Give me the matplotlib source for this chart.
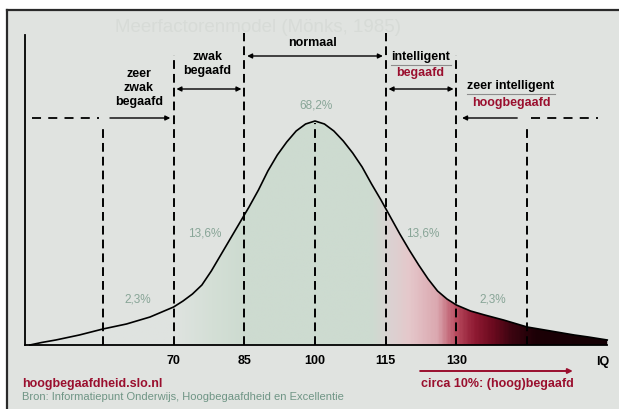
import matplotlib.pyplot as plt
import numpy as np
from matplotlib.colors import LinearSegmentedColormap

# IQ curve (height in px above the baseline)
curve_iq = [39.5, 42, 45, 50, 55, 60, 65, 70, 72, 74, 76, 78, 80, 82, 84, 86, 88, 90, 92, 94, 96, 98,
            100, 102, 104, 106, 108, 110, 112, 114, 116, 118, 120, 122, 124, 126, 128, 130, 133, 136,
            140, 145, 150, 155, 158, 162]
curve_h = [0, 2.5, 5, 10, 16, 21, 28, 38, 44, 51, 60, 74, 90, 106, 122, 138, 155, 174, 190, 203, 214, 221,
           224, 221, 214, 204, 192, 178, 161, 145, 128, 111, 95, 80, 66, 54, 46, 40, 34, 30,
           25, 18, 14, 10, 8, 5]

band_iq = [55, 70, 85, 100, 115, 130, 145]
band_top = [220, 290, 312, 222, 312, 290, 220]
tick_iq = [70, 85, 100, 115, 130]

pct_labels = ["2,3%", "13,6%", "68,2%", "13,6%", "2,3%"]
pct_iq = [62.4, 76.7, 100.3, 122.9, 137.8]
pct_h = [45, 111, 240, 112, 45]

# fill colours along the IQ axis
grad_iq = [38.5, 70, 78, 85, 112, 116, 120, 126, 130, 134, 138, 142, 147, 162]
grad_col = ['#e0e3e0', '#dfe3e0', '#d4dfd6', '#cddbd0', '#cddbd0', '#dbd2d2', '#e5c8cb', '#dba8b0',
            '#b84a5e', '#8f1a32', '#6a0a1e', '#3a0410', '#1c0006', '#140004']

BG = '#e0e3e0'
RED = '#9a0f2e'
GREY_GREEN = '#88a597'
SCALE = 15 / 70.7

plt.rcParams['font.family'] = ['Liberation Sans', 'DejaVu Sans']

fig = plt.figure(figsize=(6.19, 4.09), dpi=100)
fig.patch.set_facecolor('white')
ax = fig.add_axes([7 / 619, 0, 612 / 619, 399 / 409])
ax.set_facecolor(BG)
ax.set_xlim(100 - 308 * SCALE, 100 + 304 * SCALE)
ax.set_ylim(-64, 335)
ax.set_xticks([])
ax.set_yticks([])
for s in ['right', 'bottom']:
    ax.spines[s].set_visible(False)
for s in ['left', 'top']:
    ax.spines[s].set_color('#2a2a2a')
    ax.spines[s].set_linewidth(1.6)

# faint ghost title bleeding through the paper
ax.text(88.0, 317, "Meerfactorenmodel (Mönks, 1985)", fontsize=13.5, color='#d7dbd7',
        ha='center', va='center', zorder=0.5)

# gradient fill under the curve
pos = [(g - grad_iq[0]) / (grad_iq[-1] - grad_iq[0]) for g in grad_iq]
cmap = LinearSegmentedColormap.from_list('iq', list(zip(pos, grad_col)))
poly = ax.fill_between(curve_iq, 0, curve_h, color='none', lw=0)
img = ax.imshow(np.linspace(0, 1, 400).reshape(1, -1), cmap=cmap, aspect='auto',
                extent=[grad_iq[0], grad_iq[-1], 0, 230], zorder=1, interpolation='bilinear')
img.set_clip_path(poly.get_paths()[0], transform=ax.transData)

ax.plot(curve_iq, curve_h, color='k', lw=1.2, zorder=4)

# axes
ax.plot([38.5, 38.5], [0, 310], color='k', lw=1.3, zorder=4)
ax.plot([38.5, curve_iq[-1]], [0, 0], color='k', lw=1.3, zorder=4)

for b, t in zip(band_iq, band_top):
    ax.plot([b, b], [0, t], color='k', lw=1.4, ls=(0, (4.5, 2.6)), zorder=3)

for t in tick_iq:
    ax.text(t, -16, str(t), fontsize=9, fontweight='bold', ha='center', va='center')
ax.text(161.1, -17, "IQ", fontsize=9, fontweight='bold', ha='center', va='center')

for lab, x, y in zip(pct_labels, pct_iq, pct_h):
    ax.text(x, y, lab, fontsize=8.5, color=GREY_GREEN, ha='center', va='center')


def arrow(x0, x1, y, style, color='k', lw=1.0):
    ax.annotate('', xy=(x1, y), xytext=(x0, y),
                arrowprops=dict(arrowstyle=style, color=color, lw=lw, mutation_scale=7,
                                shrinkA=0, shrinkB=0), zorder=5)


kw = dict(fontsize=9, fontweight='bold', ha='center', va='center')

# normaal
ax.text(99.4, 302, "normaal", **kw)
arrow(85.6, 114.4, 289, '<|-|>')
# zwak begaafd
ax.text(77.2, 288, "zwak", **kw)
ax.text(77.2, 274, "begaafd", **kw)
arrow(70.6, 84.4, 256, '<|-|>')
# zeer zwak begaafd
ax.text(62.6, 271, "zeer", **kw)
ax.text(62.6, 257, "zwak", **kw)
ax.text(62.6, 243, "begaafd", **kw)
ax.plot([40, 54.2], [227, 227], color='k', lw=1.3, ls=(0, (5, 4)))
arrow(56.5, 69.3, 227, '-|>')
# intelligent begaafd
ax.text(122.4, 288, "intelligent", **kw)
ax.plot([116.2, 128.8], [280, 280], color='#8c8c8c', lw=0.8)
ax.text(122.4, 272, "begaafd", color=RED, **kw)
arrow(115.6, 129.4, 256, '<|-|>')
# zeer intelligent hoogbegaafd
ax.text(141.6, 259, "zeer intelligent", **kw)
ax.plot([132.2, 151.0], [251, 251], color='#8c8c8c', lw=0.8)
ax.text(141.6, 242, "hoogbegaafd", color=RED, **kw)
arrow(142.9, 131.2, 227, '-|>')
ax.plot([145.8, 160], [227, 227], color='k', lw=1.3, ls=(0, (5, 4)))

# footer
arrow(122.3, 154.7, -26, '-|>', color=RED, lw=1.4)
ax.text(138.6, -39, "circa 10%: (hoog)begaafd", color=RED, **kw)
ax.text(37.8, -39, "hoogbegaafdheid.slo.nl", fontsize=9, fontweight='bold', color=RED,
        ha='left', va='center')
ax.text(37.8, -52, "Bron: Informatiepunt Onderwijs, Hoogbegaafdheid en Excellentie", fontsize=8,
        color='#6f9585', ha='left', va='center')

fig.savefig("out.png", dpi=100)
